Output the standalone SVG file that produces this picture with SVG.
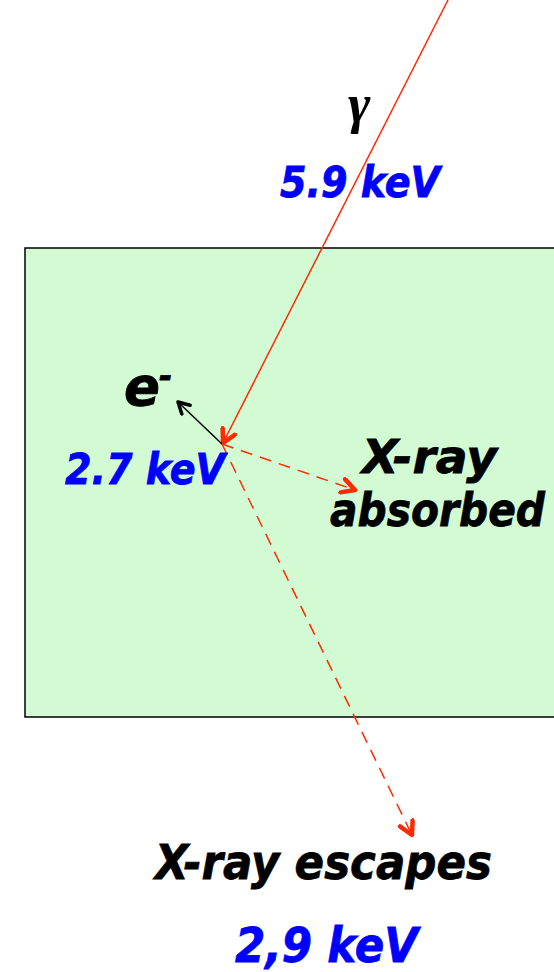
<svg xmlns="http://www.w3.org/2000/svg" width="554" height="972" viewBox="0 0 554 972">
<style>
.t{font-family:"DejaVu Sans",Verdana,sans-serif;font-weight:bold;font-style:italic}
.k{fill:#000;stroke:#000;stroke-width:0.8}
.b{fill:#0000ff;stroke:#0000ff;stroke-width:0.8}
.red{stroke:#ff2a00;fill:none;stroke-width:1.5}
.dash{stroke-dasharray:12 8}
</style>
<defs>
<marker id="ar" markerWidth="18" markerHeight="18" refX="15" refY="9" orient="auto" markerUnits="userSpaceOnUse">
<path d="M2,2 L15,9 L2,16" fill="none" stroke="#ff2a00" stroke-width="4.5" stroke-linecap="round" stroke-linejoin="round"/>
</marker>
<marker id="ak" markerWidth="16" markerHeight="16" refX="13" refY="8" orient="auto" markerUnits="userSpaceOnUse">
<path d="M2,2 L13,8 L2,14" fill="none" stroke="#000" stroke-width="3.5" stroke-linecap="round" stroke-linejoin="round"/>
</marker>
</defs>
<g id="detector"><rect x="25" y="248" width="530" height="469" fill="#d3fbd3" stroke="#000" stroke-width="1.5"/></g>
<g id="connectors">
<line class="red" x1="448" y1="0" x2="223" y2="443" marker-end="url(#ar)"/>
<line x1="222" y1="444" x2="178" y2="402" stroke="#000" stroke-width="1.5" marker-end="url(#ak)"/>
<line class="red dash" x1="222" y1="444" x2="355" y2="490" marker-end="url(#ar)"/>
<line class="red dash" x1="222" y1="444" x2="412" y2="835" marker-end="url(#ar)"/>
</g>
<g id="gamma"><text x="348" y="122" font-family="Liberation Serif,serif" font-style="italic" font-weight="bold" font-size="54">γ</text>
<text class="t b" x="280" y="197" font-size="42" textLength="160" lengthAdjust="spacingAndGlyphs">5.9 keV</text></g>
<g id="electron"><text class="t k" x="124" y="405" font-size="54" textLength="36" lengthAdjust="spacingAndGlyphs">e</text><text class="t k" x="159" y="387" font-size="32">-</text>
<text class="t b" x="65" y="484" font-size="42" textLength="160" lengthAdjust="spacingAndGlyphs">2.7 keV</text></g>
<g id="absorbed"><text class="t k" x="362" y="473" font-size="46" textLength="135" lengthAdjust="spacingAndGlyphs">X-ray</text>
<text class="t k" x="330" y="526" font-size="46" textLength="215" lengthAdjust="spacingAndGlyphs">absorbed</text></g>
<g id="escapes"><text class="t k" x="155" y="879" font-size="48" textLength="337" lengthAdjust="spacingAndGlyphs">X-ray escapes</text>
<text class="t b" x="235" y="962" font-size="48" textLength="183" lengthAdjust="spacingAndGlyphs">2,9 keV</text></g>
</svg>
